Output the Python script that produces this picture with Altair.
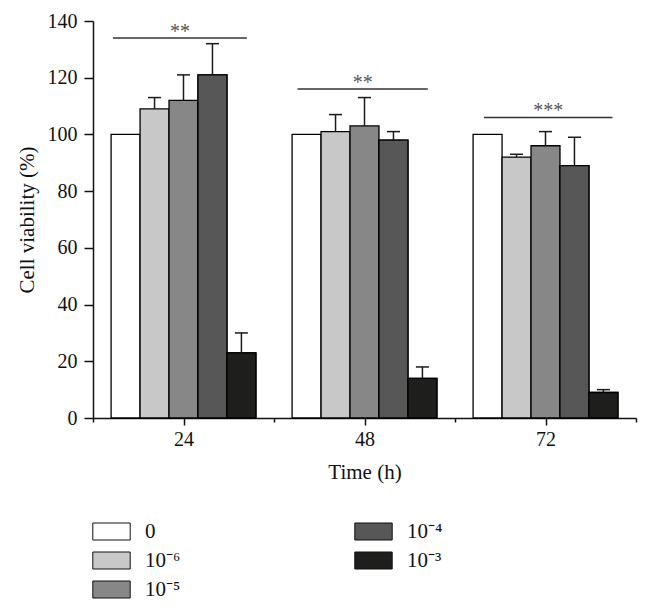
import altair as alt
import pandas as pd

# ---- data ----
times = ["24", "48", "72"]
conc = ["0", "10⁻⁶", "10⁻⁵", "10⁻⁴", "10⁻³"]
fills = ["#ffffff", "#c8c8c8", "#878787", "#575757", "#1e1e1c"]
viab_24 = [100, 109, 112, 121, 23]
viab_48 = [100, 101, 103, 98, 14]
viab_72 = [100, 92, 96, 89, 9]
err_24 = [0, 4, 9, 11, 7]
err_48 = [0, 6, 10, 3, 4]
err_72 = [0, 1, 5, 10, 1]
sig_y = [134, 116, 106]
sig_from = [0.11, 1.13, 2.16]
sig_to = [0.85, 1.85, 2.87]
sig_text = ["**", "**", "***"]

BAR_W = 0.16
CAP = 0.036

viab = [viab_24, viab_48, viab_72]
errs = [err_24, err_48, err_72]
rows = []
for gi, t in enumerate(times):
    for k, c in enumerate(conc):
        center = gi + 0.5 + (k - 2) * BAR_W
        v = viab[gi][k]
        e = errs[gi][k]
        rows.append(dict(time=t, conc=c, order=k, xc=center,
                         x0=center - BAR_W / 2, x1=center + BAR_W / 2,
                         cl=center - CAP, cr=center + CAP,
                         v=v, e=e, top=v + e))
df = pd.DataFrame(rows)
df_err = df[df.e > 0]
sig = pd.DataFrame(dict(x0=sig_from, x1=sig_to, y=sig_y, label=sig_text,
                        xm=[(a + b) / 2 for a, b in zip(sig_from, sig_to)]))

FONT = "Liberation Serif"
time_js = "[" + ",".join("'%s'" % t for t in times) + "]"

xscale = alt.Scale(domain=[0, 3], nice=False, zero=False)
yscale = alt.Scale(domain=[0, 140], nice=False)

x_axis = alt.Axis(
    values=[0, 0.5, 1, 1.5, 2, 2.5, 3],
    labelExpr=f"(datum.value % 1) == 0.5 ? {time_js}[floor(datum.value)] : ''",
    tickSize={"condition": {"test": "(datum.value % 1) == 0", "value": 4}, "value": 7},
    title="Time (h)", labelPadding=4, titlePadding=12,
)
y_axis = alt.Axis(
    values=list(range(0, 141, 10)),
    labelExpr="datum.value % 20 == 0 ? datum.label : ''",
    tickSize={"condition": {"test": "datum.value % 20 != 0", "value": 4}, "value": 9},
    title="Cell viability (%)", labelPadding=7, titlePadding=10,
)

sym = "M-2.2,-1H2.2V1H-2.2Z"

bars1 = alt.Chart(df).mark_bar(stroke="black", strokeWidth=1.3).encode(
    x=alt.X("x0:Q", scale=xscale, axis=x_axis),
    x2="x1:Q",
    y=alt.Y("v:Q", scale=yscale, axis=y_axis),
    y2=alt.datum(0),
    fill=alt.Fill("conc:N", scale=alt.Scale(domain=conc, range=fills),
                  legend=alt.Legend(values=conc[:3], orient="none", legendX=8, legendY=500,
                                    title=None, direction="vertical")),
)

df2 = df[df.conc.isin(conc[3:])]
bars2 = alt.Chart(df2).mark_bar(stroke="black", strokeWidth=1.3).encode(
    x=alt.X("x0:Q", scale=xscale, axis=x_axis),
    x2="x1:Q",
    y=alt.Y("v:Q", scale=yscale, axis=y_axis),
    y2=alt.datum(0),
    fill=alt.Fill("conc:N", scale=alt.Scale(domain=conc[3:], range=fills[3:]),
                  legend=alt.Legend(values=conc[3:], orient="none", legendX=270, legendY=500,
                                    title=None, direction="vertical")),
)

stems = alt.Chart(df_err).mark_rule(color="#1a1a1a", strokeWidth=1.5).encode(
    x="xc:Q", y="v:Q", y2="top:Q")
caps = alt.Chart(df_err).mark_rule(color="#1a1a1a", strokeWidth=1.5).encode(
    x="cl:Q", x2="cr:Q", y="top:Q")

sig_lines = alt.Chart(sig).mark_rule(color="#333333", strokeWidth=1.5).encode(
    x="x0:Q", x2="x1:Q", y="y:Q")
sig_stars = alt.Chart(sig).mark_text(font=FONT, fontSize=20, color="#555555",
                                     baseline="alphabetic", dy=0).encode(
    x="xm:Q", y="y:Q", text="label:N")

chart = alt.layer(bars1, bars2, stems, caps, sig_lines, sig_stars).resolve_scale(
    fill="independent"
).properties(
    width=543, height=397,
    autosize=alt.AutoSizeParams(type="none"),
    padding={"left": 85, "top": 13, "right": 6, "bottom": 184},
).configure_view(stroke=None).configure_axis(
    labelFont=FONT, labelFontSize=20, labelColor="#111111",
    titleFont=FONT, titleFontSize=21, titleFontWeight="normal", titleColor="#111111",
    domainColor="#111111", domainWidth=1.5, tickColor="#111111", tickWidth=1.5,
    grid=False,
).configure_legend(
    labelFont=FONT, labelFontSize=21, labelColor="#111111",
    symbolType=sym, symbolSize=289, symbolStrokeColor="#111111", symbolStrokeWidth=1,
    rowPadding=7, labelOffset=23, padding=0,
)

chart.save("out.html", embed_options={"renderer": "svg", "actions": False})
